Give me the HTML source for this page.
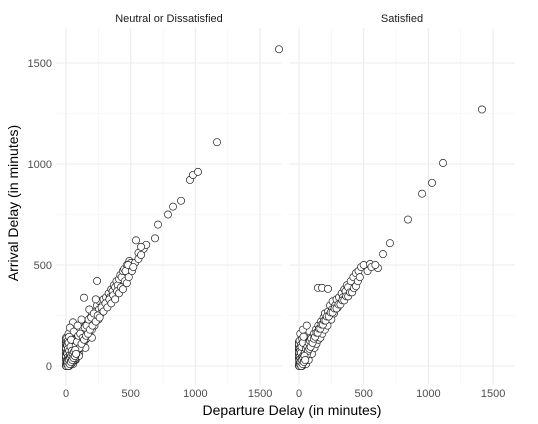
<!DOCTYPE html>
<html><head><meta charset="utf-8"><style>
body{margin:0;background:#fff;}
svg{display:block;font-family:"Liberation Sans",sans-serif;}
</style></head><body>
<svg id="chart" width="538" height="424">
<g id="panels"></g>
<text x="5" y="0" transform="translate(18,208) rotate(-90)" text-anchor="middle" font-size="14" fill="#000">Arrival Delay (in minutes)</text>
<text x="292" y="415" text-anchor="middle" font-size="14" fill="#000">Departure Delay (in minutes)</text>
</svg>
<script>
const panelTitles=["Neutral or Dissatisfied","Satisfied"];
const xTicks=[0,500,1000,1500];
const yTicks=[0,500,1000,1500];
const leftDep=[0,5,0,0,0,0,0,0,10,15,20,20,25,30,30,35,40,40,45,50,50,55,60,60,65,70,75,80,85,90,95,100,100,110,115,120,125,130,135,140,150,150,160,165,170,180,185,190,200,200,210,220,225,230,240,250,255,260,270,280,290,300,310,320,330,340,350,360,370,380,390,400,410,420,430,440,450,470,490,500,533,541,54,139,240,230,180,20,10,30,60,90,120,5,15,45,70,100,150,200,688,711,788,827,889,958,981,1020,1167,1646,600,620,560,580,460,480,
0,0,0,0,0,0,0,5,5,5,5,5,10,10,10,10,15,15,15,15,20,20,20,25,25,25,30,30,35,35,40,40,45,45,50,55,60,65,70,75,80,85,90,95,105,110,120,130,140,145,155,160,170,175,185,195,205,215,230,245,260,275,290,305,320,335,350,365,380,395,410,425,440,455,470,485,510,520,560,580,2,8,12,18,22,28,33,38,42,48,52,58,62,68,72,78];
const leftArr=[0,20,40,60,80,100,120,140,10,50,90,130,0,30,70,110,150,20,60,100,40,10,80,130,50,110,30,90,60,140,80,120,60,100,160,90,130,180,110,150,130,200,170,140,220,160,200,240,180,260,220,200,270,250,300,230,280,320,260,300,330,290,340,310,360,340,380,370,400,390,420,400,430,450,440,470,480,500,520,510,510,622,216,338,421,330,280,160,120,190,170,200,230,5,2,15,30,50,90,140,632,700,750,789,818,921,946,961,1108,1568,580,600,560,590,470,500,
10,30,50,70,90,110,130,5,25,65,105,135,0,20,60,100,15,45,85,125,5,35,115,25,75,145,15,55,45,95,10,130,35,75,20,50,30,70,40,100,60,120,80,150,90,160,110,140,130,190,150,200,160,230,180,240,200,260,220,250,240,290,270,310,290,330,310,350,330,370,360,390,380,420,410,440,470,490,530,550,0,8,20,0,30,10,40,20,50,30,60,40,70,50,80,60];
const rightDep=[0,5,0,0,0,0,0,10,15,20,20,25,30,30,35,40,40,45,50,50,55,60,60,65,70,75,80,85,90,95,100,100,110,115,120,125,130,135,140,150,150,160,165,170,180,185,190,200,200,210,220,225,230,240,250,255,260,270,280,290,300,310,320,330,340,350,360,370,380,400,420,440,460,480,500,549,610,649,703,147,178,224,842,951,1028,1113,1414,10,30,60,5,20,45,
0,0,0,0,0,0,5,5,5,5,10,10,10,15,15,15,20,20,25,25,30,30,35,35,40,45,50,55,60,65,70,75,80,85,90,95,105,115,125,135,145,155,165,175,185,195,205,215,230,245,260,275,290,305,320,335,350,365,380,395,410,425,440,455,470,530,560,590,2,8,12,18,22,28,33,38,42,48,52,58];
const rightArr=[0,20,40,60,80,100,120,10,50,90,130,0,30,70,110,150,20,60,100,40,10,80,130,50,110,30,90,60,140,80,120,60,100,160,90,130,180,110,150,130,200,170,140,220,160,200,240,180,260,220,200,270,250,300,230,280,320,260,300,330,290,340,310,360,340,380,370,400,390,420,440,460,470,490,500,505,485,554,608,387,387,382,725,853,907,1005,1270,160,180,200,5,10,25,
10,30,50,70,90,110,15,45,85,125,5,35,75,25,65,105,15,95,45,135,25,115,55,145,35,65,45,85,55,95,75,115,85,125,95,135,115,135,145,165,165,185,185,205,205,225,225,245,245,265,265,285,285,305,305,325,325,345,345,365,365,385,395,420,440,470,490,500,0,8,20,0,30,10,40,20,50,30];
const NS="http://www.w3.org/2000/svg";
const panelsG=document.getElementById('panels');
const panelX=[56,289], panelW=226, panelTop=28, panelBottom=385;
const xs=v=>v*0.1294, ys=v=>366-v*0.202;
const seriesDep=[leftDep,rightDep], seriesArr=[leftArr,rightArr];
function mk(t,a){const e=document.createElementNS(NS,t);for(const k in a)e.setAttribute(k,a[k]);return e;}
panelTitles.forEach((title,p)=>{
  const g=mk('g',{});
  
  
  panelsG.appendChild(g);
  const x0=panelX[p]+10;
  const X=v=>x0+xs(v);
  [250,750,1250].forEach(v=>{g.appendChild(mk('line',{x1:X(v),x2:X(v),y1:panelTop,y2:panelBottom,stroke:'#f2f2f2','stroke-width':0.6}));});
  [250,750,1250].forEach(v=>{g.appendChild(mk('line',{x1:panelX[p],x2:panelX[p]+panelW,y1:ys(v),y2:ys(v),stroke:'#f2f2f2','stroke-width':0.6}));});
  xTicks.forEach(v=>{
    const l=mk('line',{x1:X(v),x2:X(v),y1:panelTop,y2:panelBottom,stroke:'#ebebeb','stroke-width':1.1});
    
    
    g.appendChild(l);
    const t=mk('text',{x:X(v),y:397,'text-anchor':'middle','font-size':11,fill:'#4d4d4d'});
    t.textContent=v;
    
    
    g.appendChild(t);
  });
  yTicks.forEach(v=>{
    const l=mk('line',{x1:panelX[p],x2:panelX[p]+panelW,y1:ys(v),y2:ys(v),stroke:'#ebebeb','stroke-width':1.1});
    
    
    g.appendChild(l);
    if(p===0){
      const t=mk('text',{x:52,y:ys(v)+4,'text-anchor':'end','font-size':11,fill:'#4d4d4d'});
      t.textContent=v;
      
      
      g.appendChild(t);
    }
  });
  const st=mk('text',{x:panelX[p]+panelW/2,y:22,'text-anchor':'middle','font-size':11,fill:'#1a1a1a'});
  st.textContent=title;
  
  
  g.appendChild(st);
  const dep=seriesDep[p], arr=seriesArr[p];
  dep.forEach((d,i)=>{
    if(arr[i]===undefined) return;
    const c=mk('circle',{cx:X(d),cy:ys(arr[i]),r:3.6,fill:'#fff',stroke:'#222','stroke-width':0.7});
    
    
    g.appendChild(c);
  });
});
</script>
</body></html>
